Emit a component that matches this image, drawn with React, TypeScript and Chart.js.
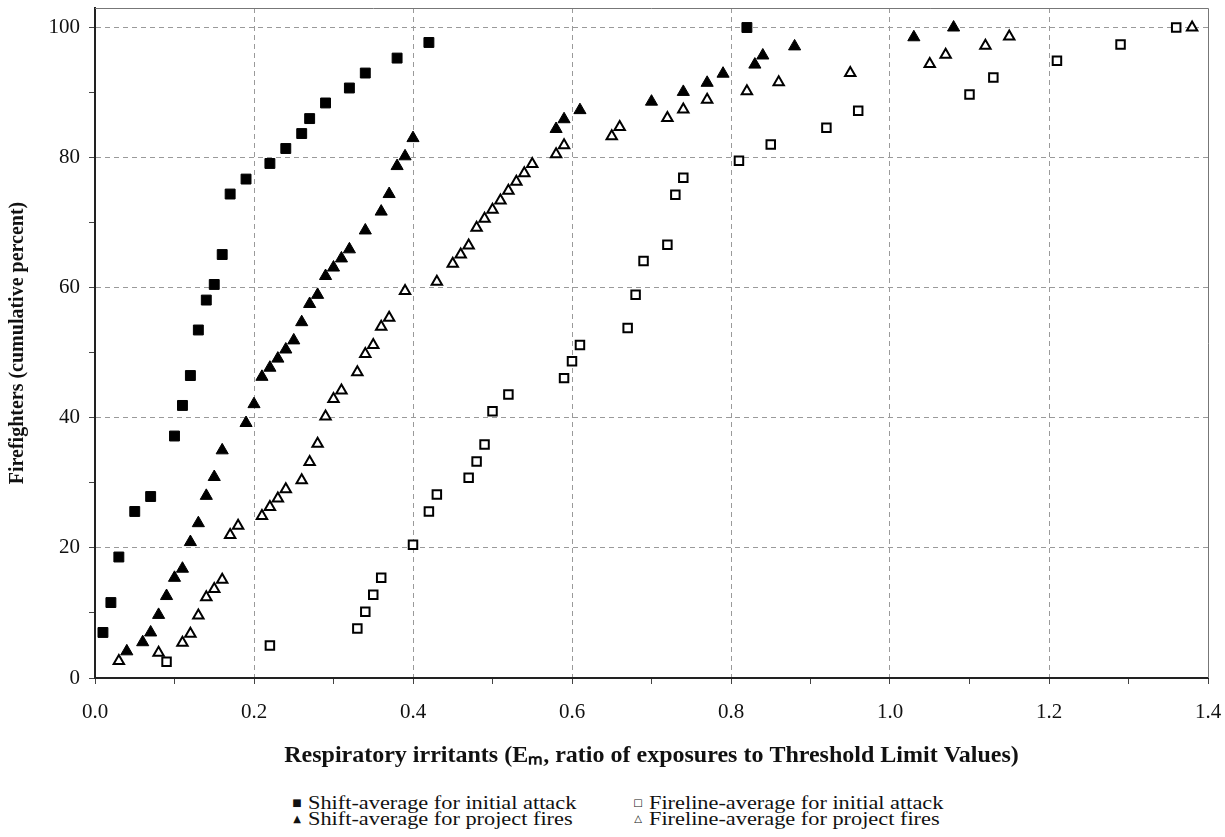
import React, { useEffect, useRef } from 'react';
import { Chart, registerables } from 'chart.js';

Chart.register(...registerables);

// Shift-average for initial attack (filled squares)
const shiftInitialX = [0.01, 0.02, 0.03, 0.05, 0.07, 0.10, 0.11, 0.12, 0.13, 0.14, 0.15, 0.16, 0.17, 0.19, 0.22, 0.24, 0.26, 0.27, 0.29, 0.32, 0.34, 0.38, 0.42, 0.82];
const shiftInitialY = [7.0, 11.6, 18.6, 25.6, 27.9, 37.2, 41.9, 46.5, 53.5, 58.1, 60.5, 65.1, 74.4, 76.7, 79.1, 81.4, 83.7, 86.0, 88.4, 90.7, 93.0, 95.3, 97.7, 100];

// Shift-average for project fires (filled triangles)
const shiftProjectX = [0.04, 0.06, 0.07, 0.08, 0.09, 0.10, 0.11, 0.12, 0.13, 0.14, 0.15, 0.16, 0.19, 0.20, 0.21, 0.22, 0.23, 0.24, 0.25, 0.26, 0.27, 0.28, 0.29, 0.30, 0.31, 0.32, 0.34, 0.36, 0.37, 0.38, 0.39, 0.40, 0.58, 0.59, 0.61, 0.70, 0.74, 0.77, 0.79, 0.83, 0.84, 0.88, 1.03, 1.08];
const shiftProjectY = [4.1, 5.5, 7.0, 9.7, 12.6, 15.4, 16.8, 20.9, 23.8, 28.0, 30.9, 35.0, 39.2, 42.1, 46.3, 47.7, 49.1, 50.5, 51.9, 54.7, 57.5, 58.9, 61.8, 63.1, 64.5, 65.9, 68.8, 71.7, 74.4, 78.7, 80.2, 83.0, 84.4, 85.9, 87.3, 88.6, 90.1, 91.5, 92.9, 94.3, 95.7, 97.1, 98.5, 100];

// Fireline-average for initial attack (open squares)
const firelineInitialX = [0.09, 0.22, 0.33, 0.34, 0.35, 0.36, 0.40, 0.42, 0.43, 0.47, 0.48, 0.49, 0.50, 0.52, 0.59, 0.60, 0.61, 0.67, 0.68, 0.69, 0.72, 0.73, 0.74, 0.81, 0.85, 0.92, 0.96, 1.10, 1.13, 1.21, 1.29, 1.36];
const firelineInitialY = [2.5, 5.0, 7.6, 10.2, 12.8, 15.4, 20.5, 25.6, 28.2, 30.8, 33.3, 35.9, 41.0, 43.6, 46.1, 48.7, 51.2, 53.8, 58.9, 64.1, 66.6, 74.3, 76.9, 79.5, 82.0, 84.6, 87.2, 89.7, 92.3, 94.9, 97.4, 100];

// Fireline-average for project fires (open triangles)
const firelineProjectX = [0.03, 0.08, 0.11, 0.12, 0.13, 0.14, 0.15, 0.16, 0.17, 0.18, 0.21, 0.22, 0.23, 0.24, 0.26, 0.27, 0.28, 0.29, 0.30, 0.31, 0.33, 0.34, 0.35, 0.36, 0.37, 0.39, 0.43, 0.45, 0.46, 0.47, 0.48, 0.49, 0.50, 0.51, 0.52, 0.53, 0.54, 0.55, 0.58, 0.59, 0.65, 0.66, 0.72, 0.74, 0.77, 0.82, 0.86, 0.95, 1.05, 1.07, 1.12, 1.15, 1.38];
const firelineProjectY = [2.6, 3.9, 5.4, 6.8, 9.6, 12.4, 13.7, 15.1, 22.0, 23.4, 24.9, 26.3, 27.6, 29.0, 30.4, 33.2, 36.0, 40.2, 42.9, 44.2, 47.0, 49.8, 51.2, 54.0, 55.4, 59.5, 60.9, 63.7, 65.1, 66.5, 69.2, 70.6, 72.0, 73.4, 74.9, 76.3, 77.6, 79.0, 80.5, 81.9, 83.3, 84.7, 86.1, 87.4, 88.9, 90.2, 91.6, 93.0, 94.4, 95.8, 97.2, 98.6, 100];

const seriesLabels = [
  'Shift-average for initial attack',
  'Fireline-average for initial attack',
  'Shift-average for project fires',
  'Fireline-average for project fires',
];
const legendMarkers = ['\u25A0', '\u25A1', '\u25B2', '\u25B3'];

const xTitle = 'Respiratory irritants (E\u2098, ratio of exposures to Threshold Limit Values)';
const yTitle = 'Firefighters (cumulative percent)';

const X_MIN = 0;
const X_MAX = 1.4;
const Y_MIN = 0;
const Y_MAX = 103;

const SERIF = '"Liberation Serif", "Times New Roman", serif';

const toPoints = (xs: number[], ys: number[]) => xs.map((x, i) => ({ x, y: ys[i] }));

const framePlugin = {
  id: 'frame',
  afterDraw(chart: any) {
    const { ctx, chartArea } = chart;
    ctx.save();
    ctx.strokeStyle = '#777';
    ctx.lineWidth = 1;
    ctx.beginPath();
    ctx.moveTo(chartArea.left, chartArea.top + 0.5);
    ctx.lineTo(chartArea.right + 0.5, chartArea.top + 0.5);
    ctx.lineTo(chartArea.right + 0.5, chartArea.bottom);
    ctx.stroke();
    ctx.restore();
  },
};

export default function App() {
  const canvasRef = useRef<HTMLCanvasElement | null>(null);

  useEffect(() => {
    if (!canvasRef.current) return;
    const chart = new Chart(canvasRef.current, {
      type: 'scatter',
      data: {
        datasets: [
          {
            label: seriesLabels[0],
            data: toPoints(shiftInitialX, shiftInitialY),
            pointStyle: 'rect',
            pointRadius: 7,
            backgroundColor: '#000',
            borderColor: '#000',
            borderWidth: 1,
          },
          {
            label: seriesLabels[1],
            data: toPoints(firelineInitialX, firelineInitialY),
            pointStyle: 'rect',
            pointRadius: 6,
            backgroundColor: '#fff',
            borderColor: '#000',
            borderWidth: 2,
          },
          {
            label: seriesLabels[2],
            data: toPoints(shiftProjectX, shiftProjectY),
            pointStyle: 'triangle',
            pointRadius: 7,
            backgroundColor: '#000',
            borderColor: '#000',
            borderWidth: 1,
          },
          {
            label: seriesLabels[3],
            data: toPoints(firelineProjectX, firelineProjectY),
            pointStyle: 'triangle',
            pointRadius: 6,
            backgroundColor: '#fff',
            borderColor: '#000',
            borderWidth: 2,
          },
        ],
      },
      options: {
        responsive: false,
        animation: false,
        events: [],
        layout: { padding: { left: 0, top: 7, right: 17, bottom: 0 } },
        plugins: {
          legend: { display: false },
          tooltip: { enabled: false },
        },
        scales: {
          x: {
            type: 'linear',
            min: X_MIN,
            max: X_MAX,
            afterFit: (s: any) => {
              s.height = 112;
              s.paddingLeft = 0;
              s.paddingRight = 0;
            },
            ticks: {
              stepSize: 0.1,
              autoSkip: false,
              maxRotation: 0,
              includeBounds: false,
              padding: 16,
              color: '#111',
              font: { family: SERIF, size: 21 },
              callback: (v: any) => (Math.round(Number(v) * 10) % 2 === 0 ? Number(v).toFixed(1) : ''),
            },
            grid: {
              color: (c: any) => {
                const t = c.tick ? Math.round(c.tick.value * 10) : 1;
                return t % 2 === 0 && t > 0 && t < 14 ? '#9a9a9a' : 'rgba(0,0,0,0)';
              },
              tickColor: '#444',
              tickLength: 6,
              lineWidth: 1,
            },
            border: { display: true, color: '#222', width: 2, dash: [5, 4] },
            title: {
              display: true,
              text: xTitle,
              color: '#111',
              font: { family: SERIF, size: 24, weight: 'bold' },
              padding: { top: 0, bottom: 20 },
            },
          },
          y: {
            type: 'linear',
            min: Y_MIN,
            max: Y_MAX,
            afterFit: (s: any) => {
              s.width = 95;
              s.paddingTop = 0;
              s.paddingBottom = 0;
            },
            ticks: {
              stepSize: 10,
              autoSkip: false,
              includeBounds: false,
              padding: 9,
              color: '#111',
              font: { family: SERIF, size: 21 },
              callback: (v: any) => (Math.round(Number(v)) % 20 === 0 ? String(Math.round(Number(v))) : ''),
            },
            grid: {
              color: (c: any) => {
                const t = c.tick ? Math.round(c.tick.value) : 1;
                return t % 20 === 0 && t > 0 ? '#9a9a9a' : 'rgba(0,0,0,0)';
              },
              tickColor: '#444',
              tickLength: 6,
              lineWidth: 1,
            },
            border: { display: true, color: '#222', width: 2, dash: [5, 4] },
            title: {
              display: true,
              text: yTitle,
              color: '#111',
              font: { family: SERIF, size: 20, weight: 'bold' },
              padding: { top: 6, bottom: 0 },
            },
          },
        },
      },
      plugins: [framePlugin],
    } as any);
    return () => chart.destroy();
  }, []);

  const cols = [297, 638];
  const rows = [803, 819];

  return (
    <div style={{ position: 'absolute', left: 0, top: 0, width: 1225, height: 837, background: '#fff' }}>
      <canvas ref={canvasRef} width={1225} height={790} style={{ display: 'block' }} />
      {seriesLabels.map((label, i) => (
        <div
          key={label}
          style={{
            position: 'absolute',
            left: cols[i % 2] - 6,
            top: rows[Math.floor(i / 2)] - 8,
            height: 16,
            display: 'flex',
            alignItems: 'center',
            whiteSpace: 'nowrap',
            fontFamily: SERIF,
            fontSize: 18,
            lineHeight: '16px',
            color: '#111',
          }}
        >
          <span style={{ display: 'inline-block', width: 12, fontSize: 10, lineHeight: '16px', fontFamily: '"DejaVu Sans", sans-serif', textAlign: 'center' }}>
            {legendMarkers[i]}
          </span>
          <span style={{ display: 'inline-block', marginLeft: 5, transform: 'scaleX(1.24)', transformOrigin: 'left center' }}>{label}</span>
        </div>
      ))}
    </div>
  );
}
